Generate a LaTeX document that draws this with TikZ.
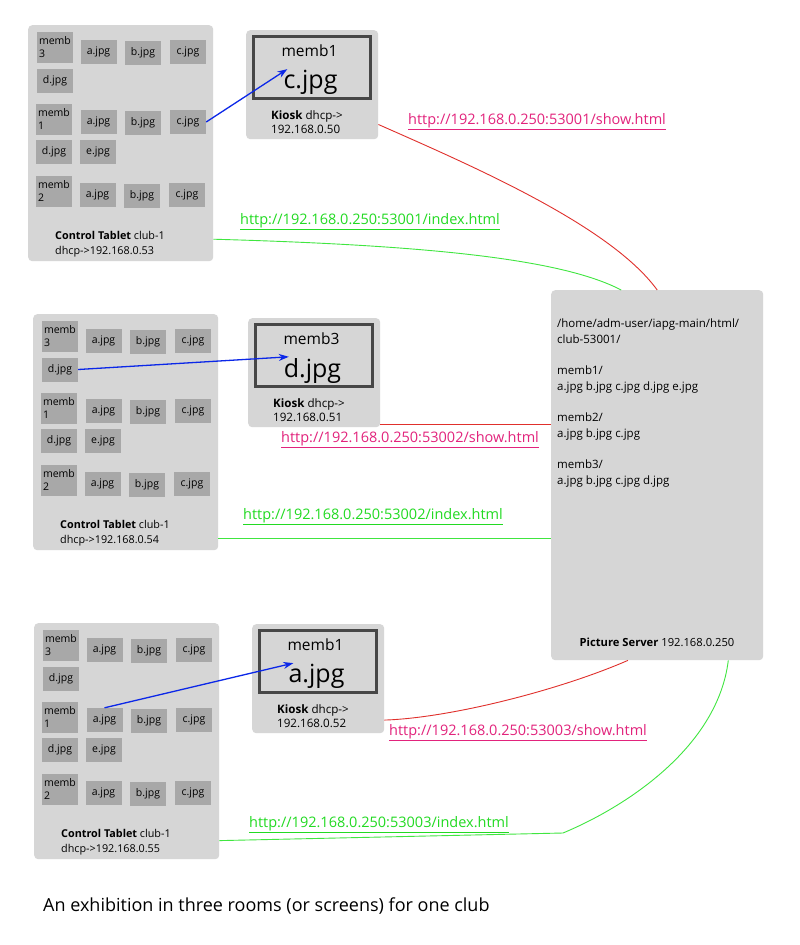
\documentclass[tikz,border=0pt]{standalone}
\usepackage{fontspec}
\setmainfont{Open Sans}
\usetikzlibrary{arrows.meta}

\definecolor{panelgrau}{HTML}{D6D6D6}
\definecolor{zellgrau}{HTML}{A8A8A8}
\definecolor{rahmengrau}{HTML}{474747}
\definecolor{showpink}{HTML}{E2237C}
\definecolor{indexgruen}{HTML}{22DA22}
\definecolor{linienrot}{HTML}{E0302C}
\definecolor{liniengruen}{HTML}{40E640}
\definecolor{pfeilblau}{HTML}{0B27E8}

\tikzset{
  panel/.style={fill=panelgrau, rounded corners=4pt, inner sep=0pt, anchor=north west},
  zelle/.style={fill=zellgrau, minimum width=36pt, minimum height=24pt, inner sep=0pt,
    font=\fontsize{10.5}{13}\selectfont},
  membzelle/.style={zelle, minimum height=31pt, text width=32pt, align=left},
  klein/.style={inner sep=0pt, anchor=west, align=left, font=\fontsize{10.8}{14.5}\selectfont},
  url/.style={inner sep=0pt, anchor=west, font=\fontsize{14.5}{17}\selectfont},
  zeigt/.style={pfeilblau, line width=1.3pt, -{Stealth[length=10pt,width=7pt]}},
  showlinie/.style={linienrot, line width=0.9pt},
  indexlinie/.style={liniengruen, line width=0.9pt},
}

\begin{document}
\begin{tikzpicture}[x=1pt, y=-1pt]
    % Bildgroesse wie im Original festhalten (y zeigt nach unten, wie bei Pixeln):
    \useasboundingbox[fill=white] (0,0) rectangle (800,945);
    % Die drei Control Tablets. Alle haben dasselbe Raster, nur verschoben:
    \foreach \n/\px/\py/\ip in {t1/28/25/53, t2/33/314/54, t3/34/623/55} {
        \begin{scope}[shift={(\px,\py)}]
            \node[panel, minimum width=185pt, minimum height=236pt] (\n) at (0,0) {};
            % memb3
            \node[membzelle] (\n-m3) at (27,22.5) {memb\\3};
            \node[zelle] (\n-m3a) at (70.5,27) {a.jpg};
            \node[zelle] (\n-m3b) at (115,27.5) {b.jpg};
            \node[zelle] (\n-m3c) at (160,27) {c.jpg};
            \node[zelle] (\n-m3d) at (27,55.5) {d.jpg};
            % memb1
            \node[membzelle] (\n-m1) at (26,94) {memb\\1};
            \node[zelle] (\n-m1a) at (70.5,97) {a.jpg};
            \node[zelle] (\n-m1b) at (115,97.5) {b.jpg};
            \node[zelle] (\n-m1c) at (160,97) {c.jpg};
            \node[zelle] (\n-m1d) at (26,126.5) {d.jpg};
            \node[zelle] (\n-m1e) at (70,126.5) {e.jpg};
            % memb2
            \node[membzelle] (\n-m2) at (26,166.5) {memb\\2};
            \node[zelle] (\n-m2a) at (69.5,170) {a.jpg};
            \node[zelle] (\n-m2b) at (114,170.5) {b.jpg};
            \node[zelle] (\n-m2c) at (159,170) {c.jpg};
            \node[klein] (\n-txt) at (27,219) {\textbf{Control Tablet} club-1\\dhcp->192.168.0.\ip};
        \end{scope}
    }
    % Die drei Kiosks mit dem gerade gezeigten Bild:
    \foreach \n/\px/\py/\mb/\bild/\ip in {k1/246/30/memb1/c.jpg/50, k2/248/318/memb3/d.jpg/51,
                                           k3/252/624/memb1/a.jpg/52} {
        \begin{scope}[shift={(\px,\py)}]
            \node[panel, minimum width=132pt, minimum height=109pt] (\n) at (0,0) {};
            \node[draw=rahmengrau, line width=2.5pt, minimum width=117pt, minimum height=62pt]
                (\n-rahmen) at (66,37.5) {};
            \node[inner sep=0pt, font=\fontsize{15.5}{18}\selectfont] (\n-memb) at (63.5,20.5) {\mb};
            \node[inner sep=1pt, font=\fontsize{25}{30}\selectfont] (\n-bild) at (64.5,52.5) {\bild};
            \node[klein, font=\fontsize{11.6}{14.5}\selectfont] (\n-txt) at (25,92)
                {\textbf{Kiosk} dhcp->\\192.168.0.\ip};
        \end{scope}
    }
    % Der Picture Server rechts:
    \node[panel, minimum width=212pt, minimum height=370pt] (server) at (551,290) {};
    \node[inner sep=0pt, anchor=north west, align=left, font=\fontsize{11.5}{16}\selectfont]
        (server-txt) at (557,319) {/home/adm-user/iapg-main/html/\\
        club-53001/\\[15pt]
        memb1/\\
        a.jpg b.jpg c.jpg d.jpg e.jpg\\[15pt]
        memb2/\\
        a.jpg b.jpg c.jpg\\[15pt]
        memb3/\\
        a.jpg b.jpg c.jpg d.jpg};
    \node[inner sep=0pt, font=\fontsize{11.2}{14}\selectfont] (server-lbl) at (657,642)
        {\textbf{Picture Server} 192.168.0.250};
    % Blaue Pfeile: welches Bild auf welchem Kiosk gezeigt wird
    \draw[zeigt] (t1-m1c.east) -- (k1-bild.150);
    \draw[zeigt] (t2-m3d.east) -- (k2-bild.150);
    \draw[zeigt] (t3-m1a.north) -- (k3-bild.150);
    % Rote Linien (show.html) von den Kiosks zum Server:
    \draw[showlinie] (k1.-31) .. controls (470,165) and (610,225) .. (server.north);
    \draw[showlinie] (k2.-38) -- (k2.-38 -| server.west);
    \draw[showlinie] (k3.-32) .. controls (450,718) and (560,690) .. (server.-99);
    % Gruene Linien (index.html) von den Tablets zum Server:
    \draw[indexlinie] (t1.-46) .. controls (420,245) and (560,258) .. (server.101);
    \draw[indexlinie] (t2.-49) -- (t2.-49 -| server.west);
    \coordinate (knick) at (563,833);
    \draw[indexlinie] (t3.-47) -- (knick) .. controls (630,805) and (718,745) .. (server.-69.5);
    % Die URLs:
    \node[url, showpink] (show1) at (408,122) {\underline{http://192.168.0.250:53001/show.html}};
    \node[url, indexgruen] (index1) at (240,222) {\underline{http://192.168.0.250:53001/index.html}};
    \node[url, showpink] (show2) at (281,440) {\underline{http://192.168.0.250:53002/show.html}};
    \node[url, indexgruen] (index2) at (243,517) {\underline{http://192.168.0.250:53002/index.html}};
    \node[url, showpink] (show3) at (389,733) {\underline{http://192.168.0.250:53003/show.html}};
    \node[url, indexgruen] (index3) at (249,825) {\underline{http://192.168.0.250:53003/index.html}};
    % Bildunterschrift:
    \node[inner sep=0pt, anchor=west, font=\fontsize{18}{21}\selectfont] (caption) at (43,906)
        {An exhibition in three rooms (or screens) for one club};
\end{tikzpicture}
\end{document}
